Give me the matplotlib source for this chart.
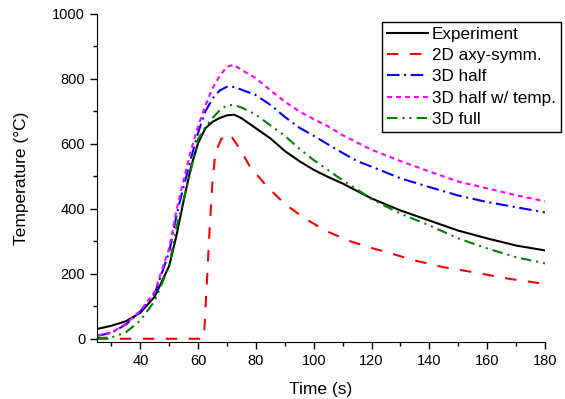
import matplotlib
matplotlib.use("Agg")
import matplotlib.pyplot as plt
from matplotlib.ticker import MultipleLocator

plt.rcParams["font.family"] = ["Liberation Sans", "DejaVu Sans"]

# tempo (s) comum para as curvas suaves
tempo = [25, 30, 35, 40, 45, 50, 52.5, 55, 57.5, 60, 62.5, 65, 67.5, 70, 72.5, 75,
         80, 85, 90, 95, 100, 105, 110, 115, 120, 130, 140, 150, 160, 170, 180]

experimento = [30, 40, 54, 80, 130, 225, 318, 426, 528, 603, 648, 668, 680, 688, 690, 679,
               648, 617, 578, 547, 520, 498, 478, 455, 432, 395, 364, 333, 309, 287, 272]
meia_3d = [9, 18, 44, 84, 140, 268, 380, 470, 555, 635, 700, 740, 765, 776, 775, 767,
           750, 720, 683, 650, 625, 598, 572, 547, 530, 494, 467, 441, 421, 405, 389]
meia_3d_temp = [10, 19, 46, 86, 145, 280, 395, 490, 580, 655, 718, 772, 810, 838, 843, 828,
                802, 765, 730, 700, 676, 654, 627, 604, 582, 547, 515, 484, 463, 442, 423]
completo_3d = [2, 4, 20, 56, 117, 225, 344, 430, 520, 615, 652, 680, 704, 719, 720, 712,
               690, 657, 625, 585, 550, 519, 488, 460, 430, 385, 349, 309, 278, 251, 232]

# 2D axissimetrico tem sua propria grade de tempo
tempo_2d = [25, 61.5, 62, 63, 64, 65, 66, 68, 71, 74, 78, 84, 90, 97, 104, 112, 119,
            127, 135, 145, 152, 160, 168, 176, 180]
axi_2d = [0, 0, 5, 170, 345, 490, 575, 615, 630, 590, 529, 467, 415, 370, 333, 302, 282,
          262, 241, 220, 210, 197, 184, 174, 168]

fig = plt.figure(figsize=(5.65, 3.99), dpi=100)
ax = fig.add_axes([97 / 565, 1 - 342 / 399, (545 - 97) / 565, (342 - 14) / 399])

lw = 1.5
ax.plot(tempo, experimento, color="black", lw=lw, label="Experiment")
ax.plot(tempo_2d, axi_2d, color="red", lw=lw, dashes=(5.5, 5.5), label="2D axy-symm.")
ax.plot(tempo, meia_3d, color="blue", lw=lw, dashes=(6, 2.2, 1, 2.2), label="3D half")
ax.plot(tempo, meia_3d_temp, color="magenta", lw=lw, dashes=(2.4, 1.9), label="3D half w/ temp.")
ax.plot(tempo, completo_3d, color="green", lw=lw, dashes=(5, 2.4, 1, 2.4, 1, 2.4), label="3D full")

ax.set_xlim(25, 180)
ax.set_ylim(-10, 1000)
ax.xaxis.set_minor_locator(MultipleLocator(10))
ax.yaxis.set_major_locator(MultipleLocator(200))
ax.yaxis.set_minor_locator(MultipleLocator(100))
ax.set_xticks(range(40, 181, 20))
for lado in ["top", "right"]:
    ax.spines[lado].set_visible(False)
ax.tick_params(which="major", direction="out", length=5, width=1, labelsize=10.5)
ax.tick_params(which="minor", direction="out", length=3, width=1)

ax.set_xlabel("Time (s)", fontsize=12.5, labelpad=10)
ax.set_ylabel("Temperature (\u00b0C)", fontsize=12.5, labelpad=17)

leg = ax.legend(loc="upper left", bbox_to_anchor=(382 / 565, 1 - 22 / 399),
                bbox_transform=fig.transFigure, borderaxespad=0, fontsize=12.3,
                handlelength=2.4, handletextpad=0.2, labelspacing=0.36,
                borderpad=0.3, fancybox=False, framealpha=1, edgecolor="black")
leg.get_frame().set_linewidth(1.0)

fig.savefig("out.png", dpi=100)
